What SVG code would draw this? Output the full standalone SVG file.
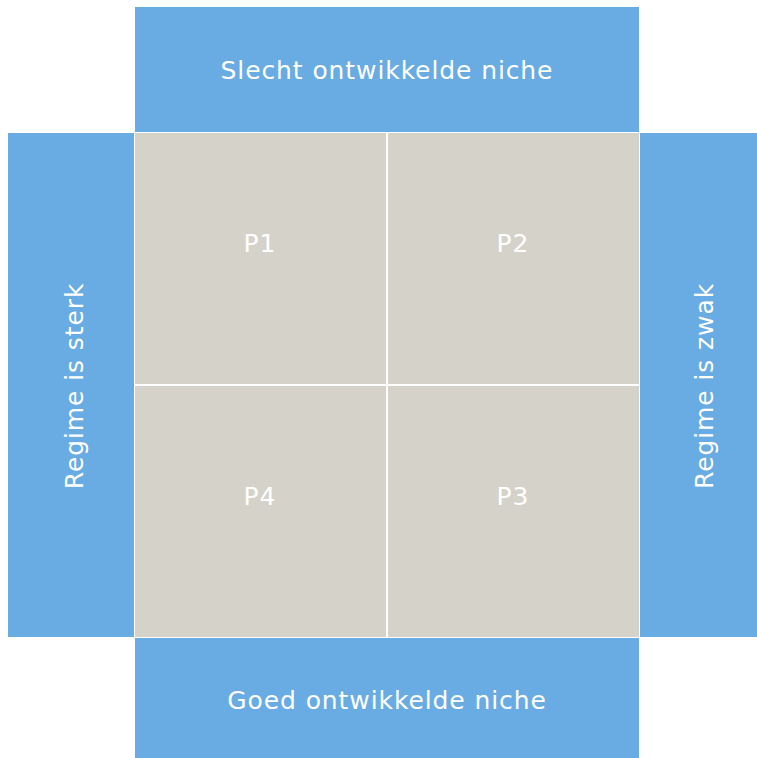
<svg xmlns="http://www.w3.org/2000/svg" width="757" height="758" viewBox="0 0 757 758">
<style>
.bar{fill:#69ACE3}
.cell{fill:#D5D2CA}
text{font-family:"DejaVu Sans",Verdana,sans-serif;fill:#FFFFFF;text-anchor:middle;font-size:25px;letter-spacing:0.9px}
</style>
<rect width="757" height="758" fill="#FFFFFF"/>
<g id="top"><rect class="bar" x="135" y="7" width="504" height="125"/><text x="387" y="79">Slecht ontwikkelde niche</text></g>
<g id="left"><rect class="bar" x="8" y="133" width="126" height="504"/><text transform="translate(83,386) rotate(-90)">Regime is sterk</text></g>
<g id="right"><rect class="bar" x="640" y="133" width="117" height="504"/><text transform="translate(713,386) rotate(-90)">Regime is zwak</text></g>
<g id="bottom"><rect class="bar" x="135" y="638" width="504" height="120"/><text x="387" y="709">Goed ontwikkelde niche</text></g>
<g id="p1"><rect class="cell" x="135" y="133" width="251" height="251"/><text x="260" y="252">P1</text></g>
<g id="p2"><rect class="cell" x="388" y="133" width="251" height="251"/><text x="513" y="252">P2</text></g>
<g id="p4"><rect class="cell" x="135" y="386" width="251" height="251"/><text x="260" y="505">P4</text></g>
<g id="p3"><rect class="cell" x="388" y="386" width="251" height="251"/><text x="513" y="505">P3</text></g>
<g id="connectors"/>
</svg>
